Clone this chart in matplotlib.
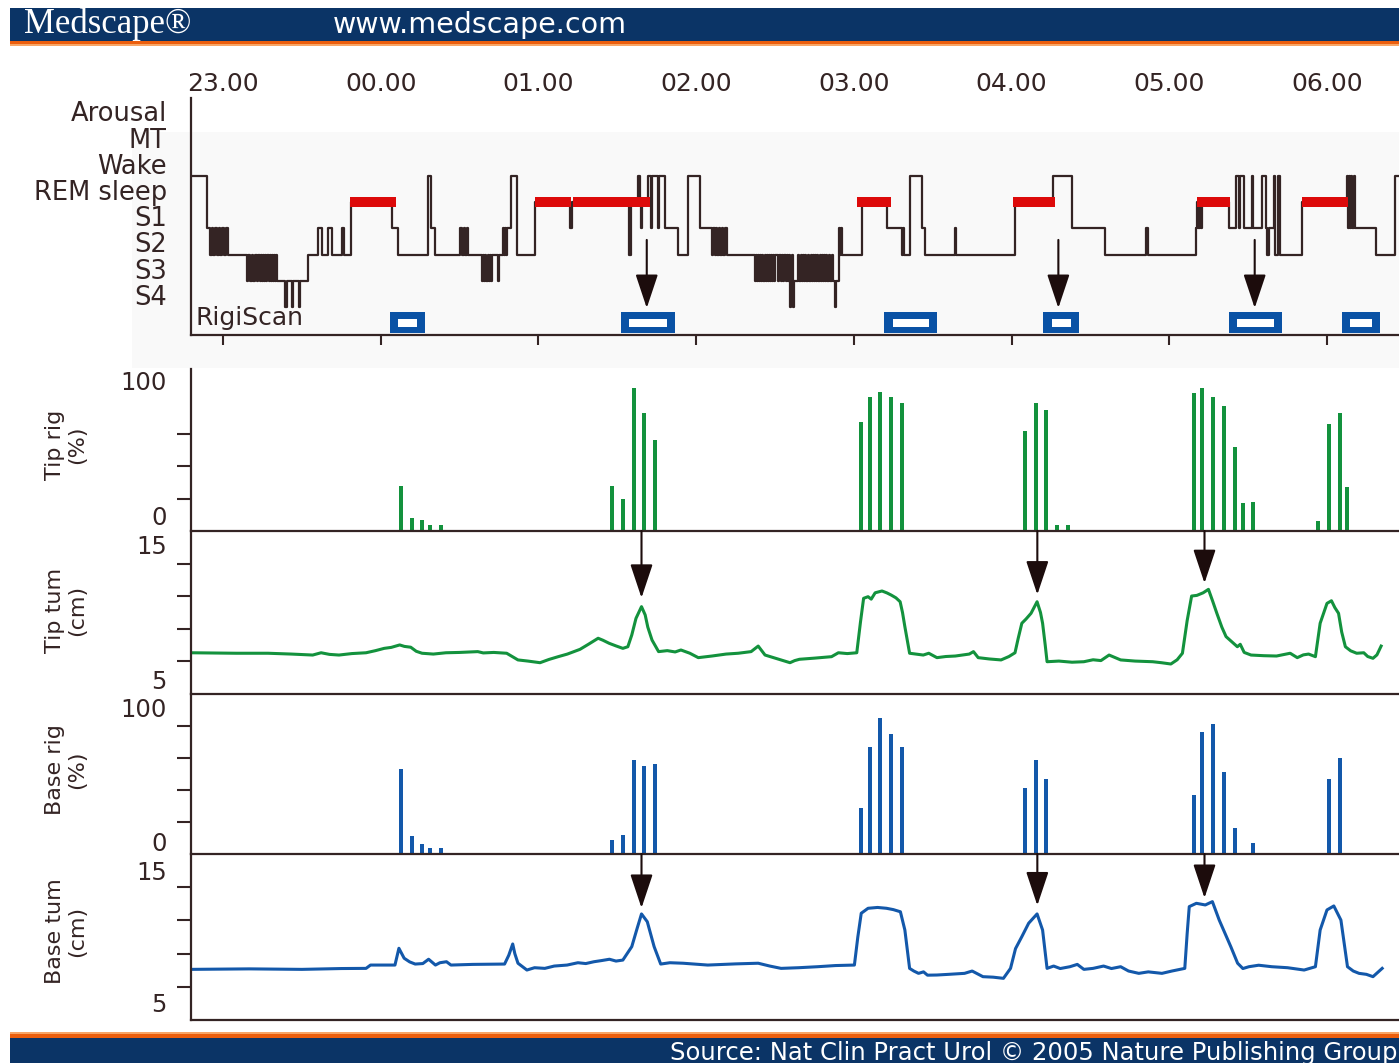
import matplotlib.pyplot as plt
from matplotlib.patches import Rectangle

W, H = 1399, 1063

# time axis in minutes after 23.00
hour_ticks = [0, 60, 120, 180, 240, 300, 360, 420]
hour_labels = ['23.00', '00.00', '01.00', '02.00', '03.00', '04.00', '05.00', '06.00']
t_start, t_end = -12.2, 447.4

# stage levels 0..7 from bottom to top
stage_names = ['S4', 'S3', 'S2', 'S1', 'REM sleep', 'Wake', 'MT', 'Arousal']

# (minute, stage level) at each change of stage
hypnogram = [
    (-12.2, 5), (-6.2, 3), (-4.9, 2), (-4.2, 3), (-3.7, 2), (-3.0, 3), (-2.4, 2),
    (-1.7, 3), (-1.1, 2), (-0.4, 3), (0.5, 2), (1.1, 3), (1.8, 2),
    (9.0, 1), (9.6, 2), (10.3, 1), (10.9, 2), (11.5, 1), (12.1, 2), (12.8, 1),
    (13.4, 2), (14.1, 1), (14.5, 2), (14.9, 1), (15.3, 2), (15.7, 1), (16.1, 2),
    (16.5, 1), (16.9, 2), (17.3, 1), (17.7, 2), (18.1, 1), (18.5, 2), (18.9, 1),
    (19.3, 2), (19.7, 1), (20.1, 2), (20.5, 1),
    (23.6, 0), (24.2, 1), (26.1, 0), (26.7, 1), (28.7, 0), (29.3, 1),
    (32.5, 2), (36.3, 3), (37.5, 2), (40.1, 3), (41.4, 2), (45.2, 3), (46.0, 2),
    (48.6, 4), (64.2, 3), (66.7, 2), (77.9, 5), (79.0, 3), (80.7, 2),
    (90.2, 3), (90.8, 2), (91.6, 3), (92.2, 2), (92.7, 3), (93.3, 2),
    (98.4, 1), (98.9, 2), (99.3, 1), (99.8, 2), (100.2, 1), (100.7, 2), (101.1, 1),
    (101.6, 2), (102.0, 1), (102.3, 2), (104.5, 1), (105.0, 2),
    (106.6, 3), (107.0, 2), (107.4, 3), (107.8, 2), (108.2, 3), (109.6, 5), (111.7, 2),
    (118.7, 4), (132.0, 3), (132.8, 4), (154.6, 2), (155.2, 4),
    (157.9, 5), (158.6, 4), (159.0, 3), (159.4, 4),
    (161.8, 5), (162.8, 3), (163.3, 5), (165.6, 3), (166.0, 5), (168.2, 3),
    (173.2, 2), (177.0, 5), (181.5, 3),
    (185.9, 2), (186.4, 3), (187.0, 2), (187.5, 3), (188.1, 2), (188.6, 3),
    (189.2, 2), (189.7, 3), (190.3, 2), (190.8, 3), (191.6, 2),
    (202.4, 1), (202.8, 2), (203.2, 1), (203.6, 2), (204.0, 1), (204.4, 2), (204.8, 1),
    (205.2, 2), (205.6, 1), (206.0, 2), (206.4, 1), (206.8, 2), (207.2, 1), (207.6, 2),
    (208.0, 1), (208.4, 2), (208.8, 1), (209.2, 2), (209.6, 1), (210.0, 2), (211.0, 1),
    (211.4, 2), (212.4, 1), (212.8, 2), (213.2, 1), (213.6, 2), (214.0, 1), (214.4, 2),
    (214.8, 1), (215.2, 2), (215.6, 0), (216.0, 1), (216.4, 2), (217.0, 0), (217.4, 1),
    (218.9, 2), (219.3, 1), (219.7, 2), (220.1, 1), (220.5, 2), (220.9, 1), (221.3, 2),
    (221.7, 1), (222.7, 2), (223.1, 1), (223.5, 2), (223.9, 1), (224.3, 2), (224.7, 1),
    (225.1, 2), (225.5, 1), (226.0, 2), (226.4, 1), (227.0, 2), (227.4, 1), (227.8, 2),
    (228.2, 1), (228.6, 2), (229.0, 1), (229.4, 2), (229.8, 1), (230.4, 2), (230.8, 1),
    (231.8, 2), (232.2, 1), (232.7, 0), (233.1, 1), (234.2, 3), (234.7, 2), (235.1, 3),
    (235.5, 2),
    (243.0, 4), (252.5, 3), (258.2, 2), (258.7, 3), (259.2, 2), (261.4, 5), (265.8, 3),
    (267.1, 2), (278.5, 3), (279.0, 2),
    (301.3, 4), (315.9, 5), (323.1, 3), (335.5, 2), (351.3, 3), (351.8, 2),
    (370.1, 3), (370.6, 4), (371.0, 3), (371.5, 4), (372.0, 3), (372.6, 4),
    (382.8, 3), (385.3, 5), (386.6, 3), (387.0, 5), (388.5, 3), (391.4, 5), (391.9, 3),
    (395.4, 5), (396.7, 3), (397.3, 2), (398.0, 3), (399.9, 5), (400.4, 2), (401.5, 5),
    (402.0, 2),
    (410.6, 4), (427.7, 5), (428.1, 3), (428.5, 5), (428.9, 3), (429.3, 5), (429.7, 3),
    (430.1, 5), (430.6, 3), (438.8, 2), (446.0, 5), (448.0, 5),
]

rem_periods = [(48.3, 65.8), (118.7, 132.4), (133.2, 162.5), (241.2, 254.2),
               (300.6, 316.6), (370.6, 383.1), (410.5, 428.0)]
rigiscan_periods = [(63.5, 76.9), (151.4, 172.0), (251.5, 271.7),
                    (312.0, 325.7), (382.7, 402.9), (425.7, 440.2)]
box_arrow_min = [161.2, 317.8, 392.5]

tip_rig_min = [67.7, 71.9, 75.7, 78.8, 82.9,
               148.0, 152.2, 156.4, 160.2, 164.4,
               242.8, 246.2, 250.0, 254.2, 258.4,
               305.2, 309.3, 313.2, 317.3, 321.5,
               369.5, 372.5, 376.7, 380.9, 385.1, 388.1, 391.9,
               416.6, 420.8, 425.0, 427.7]
tip_rig_pct = [28, 8, 7, 4, 4,
               28, 20, 88, 73, 56,
               67, 83, 86, 83, 79,
               62, 79, 75, 4, 4,
               85, 88, 83, 77, 52, 17, 18,
               6, 66, 73, 27]

base_rig_min = [67.7, 71.9, 75.7, 78.8, 82.9,
                148.0, 152.2, 156.4, 160.2, 164.4,
                242.8, 246.2, 250.0, 254.2, 258.4,
                305.2, 309.3, 313.2,
                369.5, 372.5, 376.7, 380.9, 385.1, 391.9,
                420.8, 425.0]
base_rig_pct = [53, 11, 6, 4, 4,
                9, 12, 59, 55, 56,
                29, 67, 85, 75, 67,
                41, 59, 47,
                37, 76, 81, 51, 16, 7,
                47, 60]

# (minute, cm)
tip_tum = [
    (-12.2, 7.53), (5.0, 7.50), (17.1, 7.50), (26.0, 7.45), (34.1, 7.39), (37.3, 7.53),
    (40.5, 7.43), (44.1, 7.39), (49.0, 7.48), (54.4, 7.53), (58.0, 7.66),
    (61.3, 7.80), (64.0, 7.86), (67.2, 8.01), (69.0, 7.92), (71.4, 7.87), (73.5, 7.62),
    (75.7, 7.50), (80.0, 7.45), (84.8, 7.53), (90.0, 7.55), (96.9, 7.60), (99.0, 7.52),
    (103.0, 7.55), (107.9, 7.50), (110.0, 7.30), (112.2, 7.09), (116.0, 7.02),
    (120.6, 6.92), (124.0, 7.12), (127.5, 7.29), (131.0, 7.45), (135.8, 7.74),
    (139.0, 8.05), (142.7, 8.42), (144.5, 8.30), (146.9, 8.11), (149.5, 7.95),
    (152.1, 7.80), (154.0, 7.90), (155.5, 8.62), (157.1, 9.64), (158.3, 10.05),
    (159.2, 10.36), (160.6, 9.85), (161.6, 9.10), (163.2, 8.31), (165.7, 7.60),
    (169.0, 7.66), (172.0, 7.58), (174.2, 7.70), (177.6, 7.50), (180.8, 7.23),
    (186.0, 7.33), (191.4, 7.45), (196.0, 7.50), (200.9, 7.60), (203.6, 7.94),
    (206.2, 7.39), (210.0, 7.20), (215.7, 6.92), (217.5, 7.05), (219.3, 7.13),
    (225.0, 7.20), (231.5, 7.29), (234.1, 7.53), (237.5, 7.48), (241.1, 7.53),
    (242.5, 9.40), (243.7, 10.87), (245.4, 10.97), (246.6, 10.82), (248.1, 11.21),
    (250.7, 11.32), (252.6, 11.20), (254.2, 11.07), (256.0, 10.90), (257.6, 10.66),
    (258.5, 10.00), (259.4, 9.13), (261.2, 7.50), (263.5, 7.45), (266.4, 7.39),
    (268.5, 7.50), (271.6, 7.23), (275.0, 7.30), (278.6, 7.33), (283.9, 7.45),
    (285.5, 7.60), (287.3, 7.23), (291.5, 7.15), (296.0, 7.09), (299.0, 7.30),
    (301.3, 7.53), (302.5, 8.40), (303.9, 9.34), (305.5, 9.60), (307.4, 9.95),
    (309.7, 10.66), (311.0, 10.00), (311.8, 9.34), (312.8, 8.00), (313.5, 6.98),
    (318.0, 7.02), (323.0, 6.95), (327.5, 6.98), (331.0, 7.10), (334.0, 7.05),
    (337.1, 7.39), (341.5, 7.09), (347.0, 7.02), (353.7, 6.98), (357.0, 6.92),
    (360.6, 6.84), (363.0, 7.10), (365.0, 7.50), (366.8, 9.50), (368.5, 11.01),
    (370.5, 11.05), (372.9, 11.21), (374.9, 11.42), (376.5, 10.70), (378.1, 9.95),
    (380.0, 9.10), (381.6, 8.52), (383.8, 8.20), (385.9, 7.90), (387.0, 8.05),
    (388.5, 7.55), (391.1, 7.39), (396.0, 7.35), (400.8, 7.33), (403.5, 7.42),
    (406.0, 7.50), (408.7, 7.23), (411.0, 7.40), (413.0, 7.45), (415.6, 7.29),
    (417.4, 9.34), (418.6, 9.90), (420.0, 10.56), (421.7, 10.72), (423.0, 10.30),
    (424.4, 9.95), (425.6, 8.80), (427.0, 7.90), (429.0, 7.65), (431.3, 7.50),
    (434.0, 7.53), (435.5, 7.30), (437.5, 7.19), (439.0, 7.40), (440.6, 7.94),
]
base_tum = [
    (-12.2, 8.05), (10.0, 8.08), (30.0, 8.05), (45.0, 8.10), (54.4, 8.11), (56.1, 8.31),
    (65.4, 8.31), (66.9, 9.32), (68.9, 8.72), (71.0, 8.50), (73.1, 8.37), (76.0, 8.40),
    (78.2, 8.66), (80.8, 8.31), (82.5, 8.45), (85.0, 8.51), (86.7, 8.31), (95.0, 8.35),
    (107.1, 8.37), (108.7, 8.90), (110.2, 9.58), (111.0, 9.00), (112.2, 8.42),
    (115.6, 8.01), (118.5, 8.15), (122.4, 8.11), (126.0, 8.25), (130.9, 8.31),
    (135.0, 8.45), (138.0, 8.40), (141.1, 8.51), (144.0, 8.58), (147.0, 8.66),
    (149.5, 8.55), (152.1, 8.61), (155.5, 9.42), (157.5, 10.50), (159.2, 11.39),
    (161.4, 10.92), (164.0, 9.42), (166.5, 8.37), (170.0, 8.45), (175.0, 8.42),
    (184.4, 8.31), (195.0, 8.38), (203.6, 8.42), (208.0, 8.25), (212.3, 8.11),
    (219.0, 8.15), (226.2, 8.21), (233.0, 8.28), (240.2, 8.31), (241.5, 10.00),
    (242.8, 11.43), (245.4, 11.73), (249.0, 11.78), (252.4, 11.73), (255.0, 11.65),
    (257.7, 11.52), (259.4, 10.42), (261.2, 8.11), (262.8, 7.95), (264.6, 7.81),
    (266.5, 7.90), (268.0, 7.70), (271.6, 7.71), (276.0, 7.75), (282.1, 7.81),
    (285.0, 7.95), (289.1, 7.61), (293.0, 7.58), (296.9, 7.51), (299.6, 8.11),
    (301.5, 9.30), (303.9, 10.02), (306.5, 10.83), (309.7, 11.39), (311.8, 10.42),
    (313.5, 8.11), (316.0, 8.25), (318.5, 8.10), (322.2, 8.21), (325.0, 8.35),
    (327.5, 8.05), (331.0, 8.11), (335.0, 8.25), (338.0, 8.10), (341.5, 8.21),
    (344.5, 7.95), (348.4, 7.81), (352.0, 7.90), (357.2, 7.81), (361.0, 7.95),
    (365.9, 8.11), (366.8, 10.20), (367.6, 11.83), (370.3, 12.03), (373.7, 11.93),
    (376.4, 12.13), (379.0, 11.02), (383.4, 9.42), (386.0, 8.42), (388.0, 8.10),
    (390.3, 8.21), (394.0, 8.30), (399.0, 8.21), (405.0, 8.15), (411.3, 8.01),
    (415.6, 8.21), (417.4, 10.42), (420.0, 11.63), (422.6, 11.87), (425.3, 11.02),
    (427.8, 8.21), (430.0, 7.95), (432.2, 7.81), (435.0, 7.75), (437.5, 7.61),
    (441.0, 8.11),
]

event_min = [159.2, 309.8, 373.4]
tip_arrow_tip = [10.9, 11.1, 11.8]
base_arrow_tip = [11.75, 11.9, 12.35]

dark = '#342424'
green = '#13923d'
blue = '#1358aa'
box_blue = '#0a52a5'
red = '#dd0a0a'
navy = '#0b3466'

plt.rcParams['font.family'] = ['DejaVu Sans']
fig = plt.figure(figsize=(W / 100, H / 100), dpi=100)


def px_rect(x, y, w, h, color, z=5):
    fig.add_artist(Rectangle((x / W, 1 - (y + h) / H), w / W, h / H,
                             transform=fig.transFigure, color=color, lw=0, zorder=z))


def px_axes(top, bottom):
    return fig.add_axes([191 / W, 1 - bottom / H, 1 - 191 / W, (bottom - top) / H])


def style(ax, yticks):
    ax.patch.set_alpha(0)
    ax.set_xlim(t_start, t_end)
    ax.spines[['top', 'right']].set_visible(False)
    for s in ['left', 'bottom']:
        ax.spines[s].set_color(dark)
        ax.spines[s].set_linewidth(1.6)
    ax.set_xticks([])
    ax.set_yticks(yticks)
    ax.set_yticklabels([])
    ax.tick_params(axis='y', direction='out', length=10, width=1.5, color=dark)


def end_label(ax, y, txt):
    ax.text(-0.02, y, txt, transform=ax.get_yaxis_transform(), ha='right',
            va='center', fontsize=17.5, color=dark)


arrow_props = dict(arrowstyle='-|>,head_length=2.1,head_width=0.7', mutation_scale=10,
                   color='#1c0c0c', lw=1.5, shrinkA=0, shrinkB=0)

# faint backdrop behind the hypnogram
px_rect(132, 132, 1267, 236, '#f9f9f9', z=-1)

# hypnogram
ax = px_axes(98, 335)
style(ax, [])
ax.set_ylim(-1.07, 7.98)
ax.set_xticks(hour_ticks)
ax.set_xticklabels(hour_labels, fontsize=18, color=dark)
ax.tick_params(axis='x', bottom=True, top=False, labelbottom=False, labeltop=True,
               direction='out', length=7, width=1.5, color=dark, pad=-5.5)
for lvl, name in enumerate(stage_names):
    ax.text(-0.02, lvl + 0.35, name, transform=ax.get_yaxis_transform(),
            ha='right', va='center', fontsize=18.5, color=dark)
ax.text(0.004, -0.42, 'RigiScan', transform=ax.get_yaxis_transform(),
        ha='left', va='center', fontsize=18, color=dark)

ht = [p[0] for p in hypnogram]
hs = [p[1] for p in hypnogram]
ax.step(ht, hs, where='post', color=dark, lw=1.6, zorder=2)
ax.hlines([4] * len(rem_periods), [a for a, b in rem_periods], [b for a, b in rem_periods],
          colors=red, lw=7.2, zorder=3)
for a, b in rigiscan_periods:
    ax.add_patch(Rectangle((a, -0.99), b - a, 0.80, color=box_blue, lw=0, zorder=3))
    ax.add_patch(Rectangle((a + 3.2, -0.78), b - a - 6.4, 0.34, color='white', lw=0, zorder=4))
for t in box_arrow_min:
    ax.annotate('', xy=(t, -0.04), xytext=(t, 2.56), arrowprops=arrow_props)

# tip rigidity
ax = px_axes(369, 531)
style(ax, [20, 40, 60])
ax.set_ylim(0, 100)
ax.bar(tip_rig_min, tip_rig_pct, width=1.5, color=green, zorder=2)
end_label(ax, 91.4, '100')
end_label(ax, 8, '0')

# tip tumescence
ax = px_axes(531, 694)
style(ax, [7, 9, 11, 13])
ax.set_ylim(5, 15)
ax.plot([p[0] for p in tip_tum], [p[1] for p in tip_tum], color=green, lw=2.2)
end_label(ax, 14.0, '15')
end_label(ax, 5.75, '5')
for t, tip in zip(event_min, tip_arrow_tip):
    ax.annotate('', xy=(t, tip), xytext=(t, 15), arrowprops=arrow_props)

# base rigidity
ax = px_axes(694, 854)
style(ax, [20, 40, 60, 80])
ax.set_ylim(0, 100)
ax.bar(base_rig_min, base_rig_pct, width=1.5, color=blue, zorder=2)
end_label(ax, 90, '100')
end_label(ax, 6.3, '0')

# base tumescence
ax = px_axes(854, 1020)
style(ax, [7, 9, 11, 13])
ax.set_ylim(5, 15)
ax.plot([p[0] for p in base_tum], [p[1] for p in base_tum], color=blue, lw=2.2)
end_label(ax, 13.85, '15')
end_label(ax, 5.9, '5')
for t, tip in zip(event_min, base_arrow_tip):
    ax.annotate('', xy=(t, tip), xytext=(t, 15), arrowprops=arrow_props)

# panel titles
for y, txt in [(445, 'Tip rig\n(%)'), (610, 'Tip tum\n(cm)'),
               (770, 'Base rig\n(%)'), (931, 'Base tum\n(cm)')]:
    fig.text(66 / W, 1 - y / H, txt, rotation=90, ha='center', va='center',
             fontsize=16, color=dark, multialignment='center', linespacing=1.15)

# header and footer bands
px_rect(10, 8, 1389, 33, navy)
px_rect(10, 41, 1389, 3, '#ec5e0c')
px_rect(10, 44, 1389, 2, '#f7a566')
px_rect(10, 1032, 1389, 2, '#f7a566')
px_rect(10, 1034, 1389, 4, '#ec5e0c')
px_rect(10, 1038, 1389, 25, navy)
fig.text(24 / W, 1 - 24 / H, 'Medscape®', family='Liberation Serif', fontsize=25,
         color='white', va='center', zorder=6)
fig.text(333 / W, 1 - 25 / H, 'www.medscape.com', fontsize=20.5, color='white',
         va='center', zorder=6)
fig.text(1397 / W, 1 - 1053 / H, 'Source: Nat Clin Pract Urol © 2005 Nature Publishing Group',
         ha='right', va='center', fontsize=17.5, color='white', zorder=6)

fig.savefig('out.png', dpi=100)
